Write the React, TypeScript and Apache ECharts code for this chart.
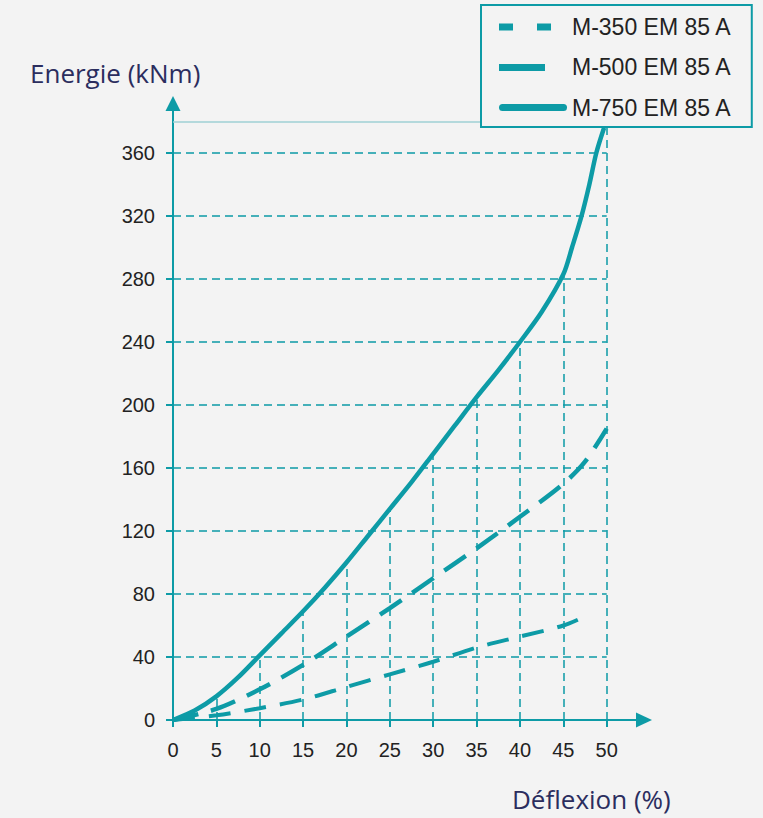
import React, { useEffect, useRef } from 'react';
import * as echarts from 'echarts';

const TEAL = '#0d9ba6';
const FRAME = '#9fd0d5';
const BG = '#f3f3f3';

const seriesNames = ['M-350 EM 85 A', 'M-500 EM 85 A', 'M-750 EM 85 A'];
const xTicks = [0, 5, 10, 15, 20, 25, 30, 35, 40, 45, 50];
const yTicks = [0, 40, 80, 120, 160, 200, 240, 280, 320, 360];
const frameValue = 380;

const m350: [number, number][] = [
  [0, 0], [5, 3], [10, 7.5], [15, 13], [20, 21], [25, 29], [30, 37], [35, 46], [40, 53], [45, 60], [48, 67],
];
const m500: [number, number][] = [
  [0, 0], [5, 7], [10, 19.5], [15, 35], [20, 53], [25, 71], [30, 90], [35, 109], [40, 129], [45, 150], [47.5, 164], [50, 185],
];
const m750: [number, number][] = [
  [0, 0], [2.5, 6], [5, 15], [7.5, 27], [10, 41], [12.5, 55], [15, 69], [17.5, 84], [20, 100], [22.5, 117],
  [25, 134], [27.5, 151], [30, 169], [32.5, 187], [35, 205], [37.5, 222], [40, 240], [42.5, 259], [45, 283],
  [46, 300], [47.1, 320], [48, 340], [48.8, 360], [49.7, 376],
];

const xMax = 50;

export default function App() {
  const ref = useRef<HTMLDivElement>(null);

  useEffect(() => {
    document.body.style.margin = '0';
    document.body.style.background = BG;
    const chart = echarts.init(ref.current!, null, { renderer: 'svg' });

    const horizontal = yTicks
      .filter((v) => v > 0)
      .map((v) => [{ coord: [0, v] }, { coord: [xMax, v] }]);
    const vertical = xTicks
      .filter((x) => x > 0)
      .map((x) => {
        const pt = m750.find((p) => p[0] === x);
        const top = x === xMax ? frameValue : pt ? pt[1] : 0;
        return [{ coord: [x, 0] }, { coord: [x, top] }];
      });
    const frameLine = [
      { coord: [0, frameValue], lineStyle: { color: FRAME, width: 1.5, type: 'solid' } },
      { coord: [xMax, frameValue] },
    ];

    const labelFont = { fontFamily: 'Liberation Sans, Arial, sans-serif', fontSize: 20, color: '#222' };

    chart.setOption({
      animation: false,
      backgroundColor: BG,
      color: [TEAL],
      title: [
        {
          text: 'Energie (kNm)', left: 30, top: 58, padding: 0,
          textStyle: { fontFamily: 'Open Sans', fontSize: 26, fontWeight: 'normal', color: '#2b2d5e', lineHeight: 30 },
        },
        {
          text: 'Déflexion (%)', left: 512, top: 784, padding: 0,
          textStyle: { fontFamily: 'Open Sans', fontSize: 26, fontWeight: 'normal', color: '#2b2d5e', lineHeight: 30 },
        },
      ],
      legend: {
        orient: 'vertical',
        left: 481,
        top: 5,
        padding: [8, 20, 6, 18],
        itemGap: 13.5,
        itemWidth: 68,
        itemHeight: 12,
        borderColor: TEAL,
        borderWidth: 2,
        backgroundColor: BG,
        selectedMode: false,
        itemStyle: { borderWidth: 0 },
        textStyle: { fontFamily: 'Liberation Sans, Arial, sans-serif', fontSize: 23, color: '#222', lineHeight: 27 },
        data: [
          { name: seriesNames[0], icon: 'path://M0,0 M68,12 M0,3h14v7h-14z M38,3h14v7h-14z', itemStyle: { color: TEAL, borderWidth: 0 } },
          { name: seriesNames[1], icon: 'path://M0,0 M68,12 M0,3h46v7h-46z', itemStyle: { color: TEAL, borderWidth: 0 } },
          { name: seriesNames[2], icon: 'path://M0,0 M68,12 M3.5,2.5h61a3.5,3.5 0 0 1 0,7h-61a3.5,3.5 0 0 1 0,-7z', itemStyle: { color: TEAL, borderWidth: 0 } },
        ],
      },
      grid: { left: 173, right: 119, top: 103.5, bottom: 98, containLabel: false },
      xAxis: {
        type: 'value',
        min: 0,
        max: 54.3,
        interval: 5,
        axisLine: {
          show: true, onZero: false, symbol: ['none', 'triangle'], symbolSize: [15, 16],
          lineStyle: { color: TEAL, width: 2 },
        },
        axisTick: { show: true, length: 7, customValues: xTicks, lineStyle: { color: TEAL, width: 2 } },
        axisLabel: {
          ...labelFont, margin: 20, customValues: xTicks,
          formatter: (v: number) => (xTicks.includes(v) ? String(v) : ''),
        },
        splitLine: { show: false },
      },
      yAxis: {
        type: 'value',
        min: 0,
        max: 391.4,
        interval: 40,
        axisLine: {
          show: true, onZero: false, symbol: ['none', 'triangle'], symbolSize: [15, 15],
          lineStyle: { color: TEAL, width: 2 },
        },
        axisTick: { show: true, length: 7, customValues: yTicks, lineStyle: { color: TEAL, width: 2 } },
        axisLabel: {
          ...labelFont, margin: 18, customValues: yTicks,
          formatter: (v: number) => (yTicks.includes(v) ? String(v) : ''),
        },
        splitLine: { show: false },
      },
      series: [
        {
          name: 'grid',
          type: 'line',
          data: [],
          z: 1,
          silent: true,
          markLine: {
            z: 1,
            silent: true,
            symbol: ['none', 'none'],
            label: { show: false },
            lineStyle: { color: TEAL, width: 1.5, type: [8, 5] },
            emphasis: { disabled: true },
            data: [...horizontal, ...vertical, frameLine],
          },
        },
        {
          name: seriesNames[0],
          type: 'line',
          data: m350,
          symbol: 'none',
          smooth: 0.3,
          z: 3,
          lineStyle: { color: TEAL, width: 4, type: [22, 14] },
        },
        {
          name: seriesNames[1],
          type: 'line',
          data: m500,
          symbol: 'none',
          smooth: 0.3,
          z: 3,
          lineStyle: { color: TEAL, width: 4.5, type: [26, 13] },
        },
        {
          name: seriesNames[2],
          type: 'line',
          data: m750,
          symbol: 'none',
          smooth: 0.3,
          z: 3,
          lineStyle: { color: TEAL, width: 4.5, type: 'solid' },
        },
      ],
    });

    return () => chart.dispose();
  }, []);

  return (
    <div
      ref={ref}
      style={{ position: 'absolute', left: 0, top: 0, width: 763, height: 818, background: BG }}
    />
  );
}
